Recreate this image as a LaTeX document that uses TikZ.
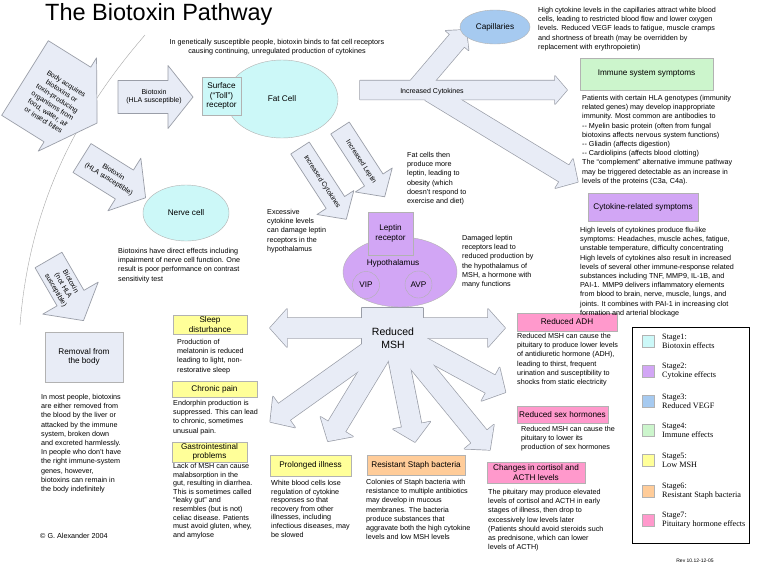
\documentclass[tikz,border=0pt]{standalone}
\usepackage{fontspec}
\setmainfont{Liberation Sans}
\newfontfamily\legendfont{Liberation Serif}
\usetikzlibrary{shapes.geometric}

\definecolor{stgcyan}{HTML}{CCF8F8}
\definecolor{stgpurple}{HTML}{D2A6F5}
\definecolor{stgblue}{HTML}{A6CAF0}
\definecolor{stggreen}{HTML}{CCF5CC}
\definecolor{stgyellow}{HTML}{FFFF99}
\definecolor{stgorange}{HTML}{FFCC99}
\definecolor{stgpink}{HTML}{FF99CC}
\definecolor{arrowfill}{HTML}{E8ECF6}
\definecolor{arrowline}{HTML}{9A9EA8}

\tikzset{
  fatedge/.style={draw=arrowline, line width=1.4pt, line join=round},
  fatfill/.style={fill=arrowfill},
  fatsolo/.style={draw=arrowline, fill=arrowfill, line width=0.7pt, line join=round},
  bodytext/.style={font=\fontsize{7.2}{9.2}\selectfont, align=left, inner sep=0pt, anchor=north west},
  tighttext/.style={bodytext, font=\fontsize{7.2}{8.6}\selectfont},
  arrowtext/.style={font=\fontsize{7}{8.6}\selectfont, align=center, inner sep=0pt},
  stagebox/.style={draw=gray!60, font=\fontsize{8.2}{9.4}\selectfont, align=center, inner sep=1pt},
  cellshape/.style={ellipse, draw=gray!60, font=\fontsize{8.2}{9.4}\selectfont, inner sep=0pt},
  swatch/.style={draw=gray!60, minimum size=12pt, inner sep=0pt},
  legendtext/.style={font=\legendfont\fontsize{8.2}{9.2}\selectfont, align=left, anchor=west, inner sep=0pt},
}

% block arrow: [style]{start}{angle}{length}{body half width}{head half width}{head length}
\newcommand{\fatarrow}[7][fatsolo]{%
  \begin{scope}[shift={(#2)}, rotate=#3]
    \path[#1] (0,-#5) -- ({#4-#7},-#5) -- ({#4-#7},-#6) -- (#4,0)
      -- ({#4-#7},#6) -- ({#4-#7},#5) -- (0,#5) -- cycle;
  \end{scope}}

\newcommand{\cytoshape}[1]{%
  \fatarrow[#1]{360,90}{0}{207}{9.5}{14}{12}
  \fatarrow[#1]{415,90}{49.6}{79}{9.5}{15}{14}
  \fatarrow[#1]{430,92}{-31.3}{173}{9.5}{17}{16}}

\newcommand{\mshshape}[1]{%
  \path[#1] (362,308) rectangle (423,358);
  \fatarrow[#1]{392,328}{180}{122}{10}{19}{17}
  \fatarrow[#1]{392,328}{0}{113}{10}{19}{17}
  \fatarrow[#1]{385,340}{-144.5}{141}{10}{19}{17}
  \fatarrow[#1]{388,342}{-121.2}{116}{10}{19}{17}
  \fatarrow[#1]{395,342}{-78.7}{102}{10}{19}{17}
  \fatarrow[#1]{400,340}{-50.7}{142}{10}{19}{17}
  \fatarrow[#1]{400,335}{-28.5}{120}{10}{19}{17}}

\begin{document}
\begin{tikzpicture}[x=1pt,y=-1pt]
  \useasboundingbox[fill=white] (0,0) rectangle (768,566);

  \node[font=\fontsize{23.5}{28}\selectfont, anchor=base west, inner sep=0pt] (title) at (45,20) {The Biotoxin Pathway};

  % body boundary
  \draw[gray!70] (145,35) .. controls (80,110) and (30,200) .. (20,325);

  % biotoxin arrows
  \fatarrow{25,78}{-32}{85}{44}{55}{35}
  \fatarrow{118,97}{0}{75}{16.5}{31.5}{25}
  \fatarrow{82,158}{-32}{75}{17}{31}{25}
  \fatarrow{48.5,260}{-60}{70}{15.5}{32}{26}
  \node[arrowtext, rotate=-32] (acquire) at (55,102) {Body acquires\\biotoxins or\\toxin-producing\\organisms from\\food, water, air\\or insect bites};
  \node[arrowtext] (hlaone) at (154,96.5) {Biotoxin\\(HLA susceptible)};
  \node[arrowtext, rotate=-32] (hlatwo) at (111,176) {Biotoxin\\(HLA susceptible)};
  \node[arrowtext, rotate=-60] (nothla) at (63,286) {Biotoxin\\(not HLA\\susceptible)};

  % cytokine arrows
  \cytoshape{fatedge}
  \cytoshape{fatfill}
  \node[arrowtext] (cytotxt) at (432,92) {Increased Cytokines};
  \fatarrow{300,148}{-57}{85}{11}{22}{20}
  \fatarrow{340,128}{-57}{82}{11}{22}{20}
  \node[arrowtext, font=\fontsize{6.8}{8}\selectfont, rotate=-57] (cytodown) at (322,182) {Increased Cytokines};
  \node[arrowtext, font=\fontsize{6.8}{8}\selectfont, rotate=-57] (leptdown) at (361,162) {Increased Leptin};

  % reduced MSH
  \mshshape{fatedge}
  \mshshape{fatfill}
  \node[font=\fontsize{10.5}{12.5}\selectfont, align=center, inner sep=0pt] (msh) at (393,338) {Reduced\\MSH};

  % cells
  \node[cellshape, fill=stgcyan, minimum width=112pt, minimum height=78pt] (fatcell) at (282,99) {Fat Cell};
  \node[stagebox, fill=stgcyan, minimum width=39pt, minimum height=38pt] (toll) at (221.5,96) {Surface\\(“Toll”)\\receptor};
  \node[cellshape, fill=stgblue, minimum width=70pt, minimum height=34pt] (capil) at (495,27) {Capillaries};
  \node[cellshape, fill=stgcyan, minimum width=86pt, minimum height=56pt] (nerve) at (186,213) {Nerve cell};
  \node[cellshape, fill=stgpurple, minimum width=114pt, minimum height=70pt] (hypo) at (400,272) {};
  \node[stagebox, fill=stgpurple, minimum width=45pt, minimum height=43pt] (leptin) at (390.5,233.5) {Leptin\\receptor};
  \node[font=\fontsize{8.2}{9.4}\selectfont, inner sep=0pt] (hypotxt) at (393,263) {Hypothalamus};
  \node[circle, draw=gray!60, fill=stgpurple, minimum size=27pt, inner sep=0pt, font=\fontsize{8.2}{9.4}\selectfont] (vip) at (366,285) {VIP};
  \node[circle, draw=gray!60, fill=stgpurple, minimum size=27pt, inner sep=0pt, font=\fontsize{8.2}{9.4}\selectfont] (avp) at (418.5,284.5) {AVP};

  % stage boxes
  \node[stagebox, fill=stggreen, minimum width=133pt, minimum height=32pt] (immune) at (646.5,74) {Immune system symptoms};
  \node[stagebox, fill=stgpurple, minimum width=110pt, minimum height=28pt] (cytobox) at (643,207) {Cytokine-related symptoms};
  \node[stagebox, fill=arrowfill, minimum width=78pt, minimum height=50pt] (removal) at (84,357) {Removal from\\the body};
  \node[stagebox, fill=stgyellow, minimum width=74pt, minimum height=19pt] (sleep) at (210,324.5) {Sleep\\disturbance};
  \node[stagebox, fill=stgyellow, minimum width=85pt, minimum height=16pt] (pain) at (214.5,389) {Chronic pain};
  \node[stagebox, fill=stgyellow, minimum width=75pt, minimum height=20pt] (gastro) at (209.5,452) {Gastrointestinal\\problems};
  \node[stagebox, fill=stgyellow, minimum width=81pt, minimum height=21pt] (illness) at (310.5,465.5) {Prolonged illness};
  \node[stagebox, fill=stgorange, minimum width=98pt, minimum height=20pt] (staph) at (416,465) {Resistant Staph bacteria};
  \node[stagebox, fill=stgpink, minimum width=98pt, minimum height=21pt] (cortisol) at (536,472.5) {Changes in cortisol and\\ACTH levels};
  \node[stagebox, fill=stgpink, minimum width=100pt, minimum height=18pt] (adh) at (567,322) {Reduced ADH};
  \node[stagebox, fill=stgpink, minimum width=91pt, minimum height=17pt] (sex) at (562.5,414.5) {Reduced sex hormones};

  % texts
  \node[bodytext, anchor=north, align=center] (intro) at (277,39) {In genetically susceptible people, biotoxin binds to fat cell receptors\\causing continuing, unregulated production of cytokines};
  \node[bodytext] (capiltxt) at (538,7) {High cytokine levels in the capillaries attract white blood\\cells, leading to restricted blood flow and lower oxygen\\levels. Reduced VEGF leads to fatigue, muscle cramps\\and shortness of breath (may be overridden by\\replacement with erythropoietin)};
  \node[bodytext] (immunetxt) at (582,95) {Patients with certain HLA genotypes (immunity\\related genes) may develop inappropriate\\immunity. Most common are antibodies to\\-{}- Myelin basic protein (often from fungal\\biotoxins affects nervous system functions)\\-{}- Gliadin (affects digestion)\\-{}- Cardiolipins (affects blood clotting)\\The “complement” alternative immune pathway\\may be triggered detectable as an increase in\\levels of the proteins (C3a, C4a).};
  \node[bodytext] (cytotext) at (580,227) {High levels of cytokines produce flu-like\\symptoms: Headaches, muscle aches, fatigue,\\unstable temperature, difficulty concentrating\\High levels of cytokines also result in increased\\levels of several other immune-response related\\substances including TNF, MMP9, IL-1B, and\\PAI-1. MMP9 delivers inflammatory elements\\from blood to brain, nerve, muscle, lungs, and\\joints. It combines with PAI-1 in increasing clot\\formation and arterial blockage};
  \node[bodytext] (nervetxt) at (118,248) {Biotoxins have direct effects including\\impairment of nerve cell function. One\\result is poor performance on contrast\\sensitivity test};
  \node[bodytext] (obesity) at (407,152) {Fat cells then\\produce more\\leptin, leading to\\obesity (which\\doesn't respond to\\exercise and diet)};
  \node[bodytext] (damage) at (267,209) {Excessive\\cytokine levels\\can damage leptin\\receptors in the\\hypothalamus};
  \node[bodytext] (damaged) at (462,235) {Damaged leptin\\receptors lead to\\reduced production by\\the hypothalamus of\\MSH, a hormone with\\many functions};
  \node[bodytext] (removaltxt) at (41,394) {In most people, biotoxins\\are either removed from\\the blood by the liver or\\attacked by the immune\\system, broken down\\and excreted harmlessly.\\In people who don't have\\the right immune-system\\genes, however,\\biotoxins can remain in\\the body indefinitely};
  \node[bodytext] (sleeptxt) at (177,339) {Production of\\melatonin is reduced\\leading to light, non-\\restorative sleep};
  \node[bodytext] (paintxt) at (173,400) {Endorphin production is\\suppressed. This can lead\\to chronic, sometimes\\unusual pain.};
  \node[tighttext] (gastrotxt) at (173,463) {Lack of MSH can cause\\malabsorption in the\\gut, resulting in diarrhea.\\This is sometimes called\\“leaky gut” and\\resembles (but is not)\\celiac disease. Patients\\must avoid gluten, whey,\\and amylose};
  \node[tighttext] (illnesstxt) at (271,480) {White blood cells lose\\regulation of cytokine\\responses so that\\recovery from other\\illnesses, including\\infectious diseases, may\\be slowed};
  \node[bodytext] (staphtxt) at (366,479) {Colonies of Staph bacteria with\\resistance to multiple antibiotics\\may develop in mucous\\membranes. The bacteria\\produce substances that\\aggravate both the high cytokine\\levels and low MSH levels};
  \node[bodytext] (cortisoltxt) at (488,489) {The pituitary may produce elevated\\levels of cortisol and ACTH in early\\stages of illness, then drop to\\excessively low levels later\\(Patients should avoid steroids such\\as prednisone, which can lower\\levels of ACTH)};
  \node[bodytext] (adhtxt) at (517,333) {Reduced MSH can cause the\\pituitary to produce lower levels\\of antidiuretic hormone (ADH),\\leading to thirst, frequent\\urination and susceptibility to\\shocks from static electricity};
  \node[bodytext] (sextxt) at (521,426) {Reduced MSH can cause the\\pituitary to lower its\\production of sex hormones};
  \node[bodytext] (copyright) at (40,533) {© G. Alexander 2004};

  % legend
  \draw[black, line width=0.8pt] (632,327) rectangle (749,543);
  \foreach \yy/\col/\name [count=\i] in {341/stgcyan/Biotoxin effects, 371/stgpurple/Cytokine effects, 401/stgblue/Reduced VEGF, 430/stggreen/Immune effects, 460/stgyellow/Low MSH, 491/stgorange/Resistant Staph bacteria, 520/stgpink/Pituitary hormone effects}
  {
    \node[swatch, fill=\col] (sw\i) at (648,\yy) {};
    \node[legendtext] (lg\i) at (662,\yy) {Stage\i:\\\name};
  }
  \node[font=\fontsize{5}{6}\selectfont, inner sep=0pt] (revision) at (695,561) {Rev 10.12-12-05};
\end{tikzpicture}
\end{document}
